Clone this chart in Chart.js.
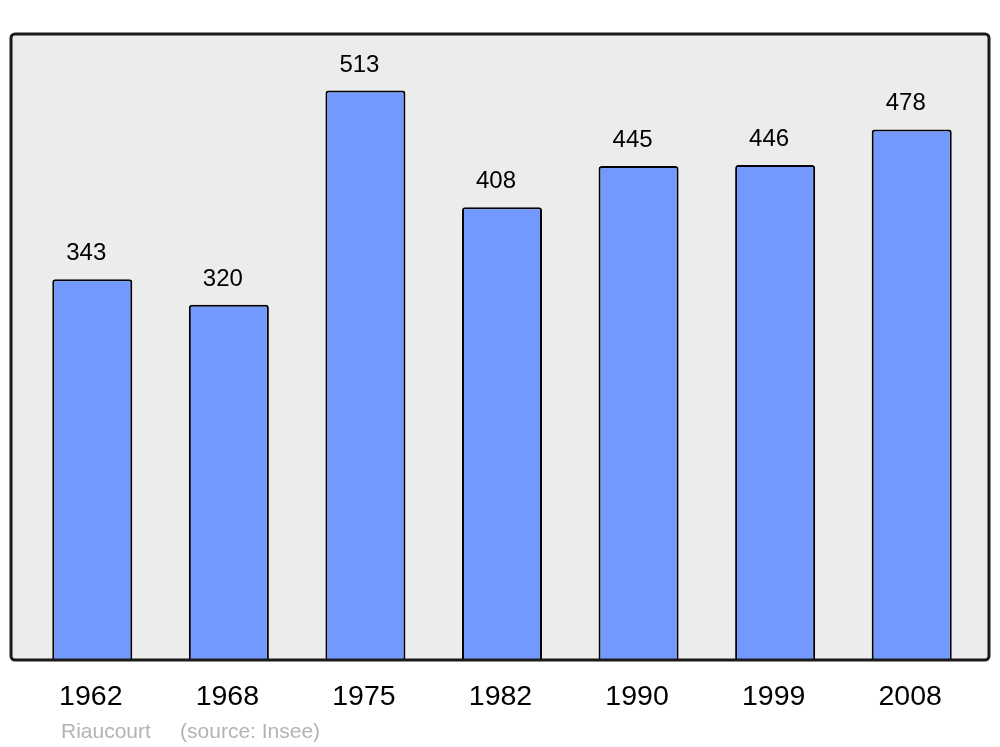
<!DOCTYPE html>
<html>
<head>
<meta charset="utf-8">
<script src="https://cdn.jsdelivr.net/npm/chart.js@4/dist/chart.umd.min.js"></script>
<style>
html,body{margin:0;padding:0;background:#fff;}
#wrap{width:1000px;height:747px;position:relative;}
</style>
</head>
<body>
<div id="wrap"><canvas id="c" width="1000" height="747"></canvas></div>
<script>
const years = ['1962','1968','1975','1982','1990','1999','2008'];
const population = [343, 320, 513, 408, 445, 446, 478];
const sourceText = 'Riaucourt     (source: Insee)';

const FONT = '"Liberation Sans", Arial, sans-serif';

const boxPlugin = {
  id: 'box',
  beforeDraw(chart) {
    const ctx = chart.ctx;
    ctx.save();
    ctx.beginPath();
    ctx.roundRect(11, 34, 978, 626, 4);
    ctx.fillStyle = '#ececec';
    ctx.fill();
    ctx.restore();
  },
  afterDatasetsDraw(chart) {
    const ctx = chart.ctx;
    ctx.save();
    ctx.beginPath();
    ctx.roundRect(11, 34, 978, 626, 4);
    ctx.lineWidth = 3;
    ctx.strokeStyle = '#1a1a1a';
    ctx.stroke();
    const meta = chart.getDatasetMeta(0);
    ctx.font = '24px ' + FONT;
    ctx.fillStyle = '#000';
    ctx.textAlign = 'center';
    ctx.textBaseline = 'alphabetic';
    meta.data.forEach((bar, i) => {
      ctx.fillText(String(population[i]), bar.x - 6, bar.y - 19);
    });
    ctx.font = '21px ' + FONT;
    ctx.fillStyle = '#b3b3b3';
    ctx.textAlign = 'left';
    ctx.fillText(sourceText, 61, 738);
    ctx.restore();
  }
};

new Chart(document.getElementById('c'), {
  type: 'bar',
  data: {
    labels: years,
    datasets: [{
      data: population,
      backgroundColor: '#7399ff',
      borderColor: '#000',
      borderWidth: 2,
      borderRadius: 3,
      borderSkipped: 'bottom',
      categoryPercentage: 1,
      barPercentage: 0.586
    }]
  },
  options: {
    responsive: false,
    animation: false,
    devicePixelRatio: 1,
    layout: { padding: { left: 24, right: 20, top: 34, bottom: 37 } },
    plugins: { legend: { display: false }, tooltip: { enabled: false } },
    scales: {
      y: { display: false, min: 0, max: 564 },
      x: {
        offset: true,
        grid: { display: false, drawTicks: false },
        border: { display: false },
        ticks: { color: '#000', font: { family: FONT, size: 28.5 }, padding: 20, labelOffset: -1.5, maxRotation: 0 },
        afterFit(s) { s.height = 50; }
      }
    }
  },
  plugins: [boxPlugin]
});
</script>
</body>
</html>
